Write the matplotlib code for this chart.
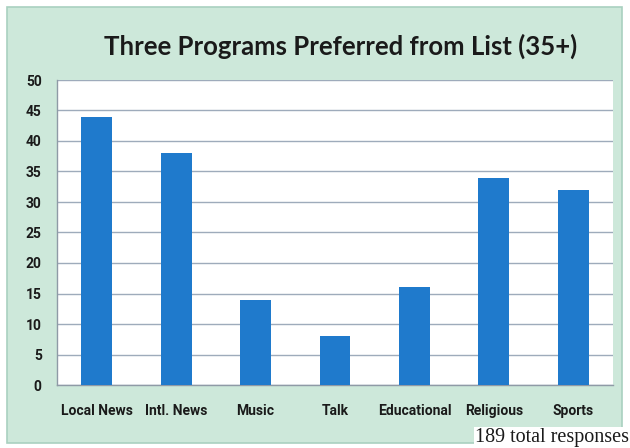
import numpy as np
import matplotlib
matplotlib.use("Agg")
import matplotlib.pyplot as plt
from matplotlib.patches import Rectangle

# Data
categories = ["Local News", "Intl. News", "Music", "Talk", "Educational", "Religious", "Sports"]
counts = [44, 38, 14, 8, 16, 34, 32]
y_ticks = [0, 5, 10, 15, 20, 25, 30, 35, 40, 45, 50]

TITLE = "Three Programs Preferred from List (35+)"
NOTE = "189 total responses"

# Colors
MINT = "#cde8da"
MINT_EDGE = "#a9d1c0"
BAR = "#1f7acc"
GRID = "#9eabbb"

TICK_FONT = ["Liberation Sans Narrow", "Roboto", "DejaVu Sans"]


def main():
    fig = plt.figure(figsize=(6.3, 4.48), dpi=100)
    fig.patch.set_facecolor("white")

    # mint frame behind the chart
    frame = Rectangle((7 / 630, 1 - 443 / 448), 615 / 630, 436 / 448,
                      transform=fig.transFigure, facecolor=MINT,
                      edgecolor=MINT_EDGE, linewidth=1.2, zorder=-1)
    fig.patches.append(frame)

    ax = fig.add_axes([57 / 630, 63 / 448, 556 / 630, 305 / 448])
    ax.set_zorder(2)
    ax.set_facecolor("white")

    x = np.arange(len(categories))
    ax.bar(x, counts, width=0.39, color=BAR, zorder=3)

    ax.set_xlim(-0.5, len(categories) - 0.5)
    ax.set_ylim(0, 50)
    ax.set_yticks(y_ticks)
    ax.set_xticks(x)
    ax.set_xticklabels(categories)
    ax.yaxis.grid(True, color=GRID, linewidth=1.0, zorder=0)
    ax.set_axisbelow(True)

    for side in ["top", "right"]:
        ax.spines[side].set_visible(False)
    for side in ["left", "bottom"]:
        ax.spines[side].set_color("#8f9aa6")
        ax.spines[side].set_linewidth(1.0)

    ax.tick_params(axis="both", length=0)
    ax.tick_params(axis="y", pad=11)
    ax.tick_params(axis="x", pad=14)
    for lbl in ax.get_xticklabels() + ax.get_yticklabels():
        lbl.set_family(TICK_FONT)
        lbl.set_fontweight("bold")
        lbl.set_fontsize(10)
        lbl.set_color("#1a1a1a")

    fig.text(341 / 630, 1 - 46 / 448, TITLE, ha="center", va="center",
             family=["Lato", "DejaVu Sans"], fontweight="bold", fontsize=18.5,
             color="#1a1a1a", zorder=3)

    fig.text(629 / 630, 1 - 442 / 448, NOTE, ha="right", va="baseline",
             family=["Liberation Serif", "DejaVu Serif"], fontsize=14.5,
             color="#1a1a1a", zorder=3,
             bbox=dict(facecolor="white", edgecolor="none", pad=1.0))

    fig.savefig("out.png", dpi=100, facecolor=fig.get_facecolor())


if __name__ == "__main__":
    main()
